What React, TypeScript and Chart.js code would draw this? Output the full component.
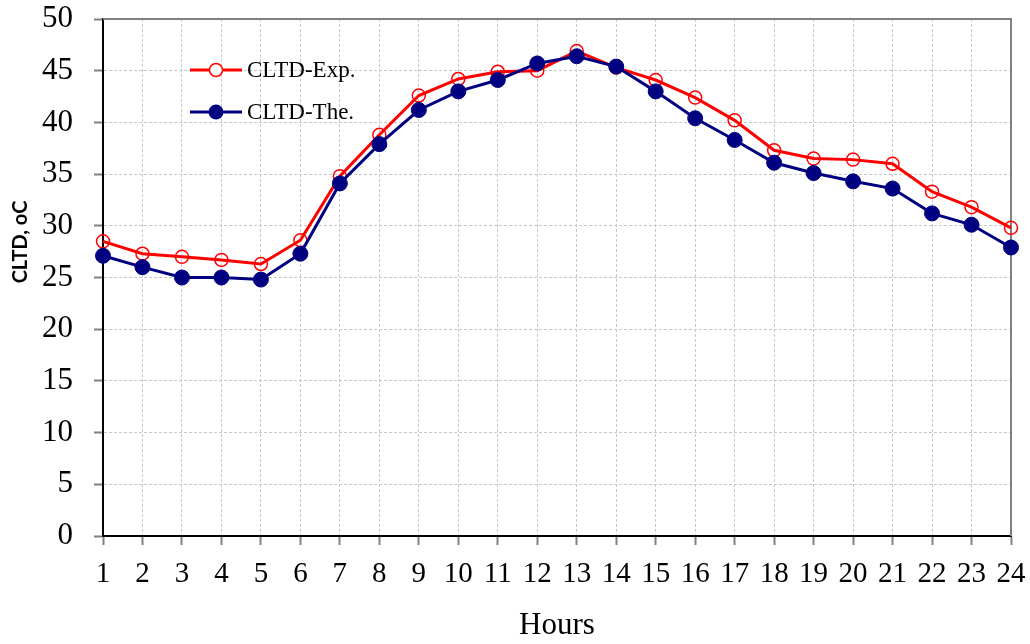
import React, { useEffect, useRef } from "react";
import { Chart, registerables } from "chart.js";

Chart.register(...registerables);

const hours = ["1","2","3","4","5","6","7","8","9","10","11","12","13","14","15","16","17","18","19","20","21","22","23","24"];
const cltdExp = [28.5, 27.3, 27.0, 26.7, 26.3, 28.6, 34.8, 38.8, 42.6, 44.2, 44.9, 45.0, 46.9, 45.3, 44.1, 42.4, 40.2, 37.3, 36.5, 36.4, 36.0, 33.3, 31.8, 29.8];
const cltdThe = [27.1, 26.0, 25.0, 25.0, 24.8, 27.3, 34.1, 37.9, 41.2, 43.0, 44.1, 45.7, 46.4, 45.4, 43.0, 40.4, 38.3, 36.1, 35.1, 34.3, 33.6, 31.2, 30.1, 27.9];
const seriesNames = ["CLTD-Exp.", "CLTD-The."];
const yTitle = "CLTD, oC";
const xTitle = "Hours";

const RED = "#ff0000";
const NAVY = "#000080";

const framePlugin = {
  id: "frame",
  beforeDatasetsDraw(chart: any) {
    const { ctx, chartArea } = chart;
    ctx.save();
    ctx.strokeStyle = "#808080";
    ctx.lineWidth = 2;
    ctx.beginPath();
    ctx.moveTo(chartArea.left, chartArea.top);
    ctx.lineTo(chartArea.right, chartArea.top);
    ctx.lineTo(chartArea.right, chartArea.bottom);
    ctx.stroke();
    ctx.restore();
  },
};

const yTitlePlugin = {
  id: "yTitle",
  afterDraw(chart: any) {
    const { ctx } = chart;
    ctx.save();
    ctx.translate(21, 242);
    ctx.rotate(-Math.PI / 2);
    ctx.fillStyle = "#000000";
    ctx.font = "bold 20px Lato";
    ctx.textAlign = "center";
    ctx.textBaseline = "middle";
    ctx.fillText(yTitle, 0, 0);
    ctx.restore();
  },
};

const legendPlugin = {
  id: "insideLegend",
  afterDraw(chart: any) {
    const { ctx } = chart;
    const items = [
      { label: seriesNames[0], color: RED, filled: false, y: 70 },
      { label: seriesNames[1], color: NAVY, filled: true, y: 112 },
    ];
    ctx.save();
    items.forEach((it) => {
      ctx.strokeStyle = it.color;
      ctx.lineWidth = 3;
      ctx.beginPath();
      ctx.moveTo(190, it.y);
      ctx.lineTo(242, it.y);
      ctx.stroke();
      ctx.beginPath();
      ctx.arc(216, it.y, it.filled ? 7.5 : 6.5, 0, Math.PI * 2);
      if (it.filled) {
        ctx.fillStyle = it.color;
        ctx.fill();
      } else {
        ctx.fillStyle = "#ffffff";
        ctx.fill();
        ctx.lineWidth = 1.5;
        ctx.stroke();
      }
      ctx.fillStyle = "#000000";
      ctx.font = "23px 'Liberation Serif'";
      ctx.textBaseline = "middle";
      ctx.textAlign = "left";
      ctx.fillText(it.label, 247, it.y + 1);
    });
    ctx.restore();
  },
};

export default function App() {
  const ref = useRef<HTMLCanvasElement | null>(null);

  useEffect(() => {
    if (!ref.current) return;
    const chart = new Chart(ref.current, {
      type: "line",
      data: {
        labels: hours,
        datasets: [
          {
            label: seriesNames[0],
            data: cltdExp,
            borderColor: RED,
            borderWidth: 3,
            pointStyle: "circle",
            pointRadius: 6.5,
            pointBorderWidth: 1.5,
            pointBorderColor: RED,
            pointBackgroundColor: "rgba(255,255,255,0)",
            tension: 0,
            clip: false,
            order: 2,
          } as any,
          {
            label: seriesNames[1],
            data: cltdThe,
            borderColor: NAVY,
            borderWidth: 3,
            pointStyle: "circle",
            pointRadius: 7.5,
            pointBorderWidth: 1,
            pointBorderColor: NAVY,
            pointBackgroundColor: NAVY,
            tension: 0,
            clip: false,
            order: 1,
          } as any,
        ],
      },
      options: {
        animation: false,
        responsive: false,
        devicePixelRatio: 1,
        layout: { padding: { left: 0, top: 19, right: 19, bottom: 0 } },
        plugins: {
          legend: { display: false },
          tooltip: { enabled: false },
        },
        scales: {
          x: {
            type: "category",
            offset: false,
            afterFit(scale: any) {
              scale.height = 108;
              scale.paddingLeft = 0;
              scale.paddingRight = 0;
            },
            grid: {
              offset: false,
              color: "#c8c8c8",
              lineWidth: 1,
              tickLength: 9,
              tickColor: "#808080",
              tickWidth: 2,
            },
            border: { color: "#000000", width: 2, dash: [3, 2] },
            ticks: {
              autoSkip: false,
              maxRotation: 0,
              minRotation: 0,
              padding: 12,
              color: "#000000",
              font: { family: "'Liberation Serif'", size: 29 },
            },
            title: {
              display: true,
              text: xTitle,
              color: "#000000",
              font: { family: "'Liberation Serif'", size: 31 },
              padding: { top: 0, bottom: 0 },
            },
          },
          y: {
            min: 0,
            max: 50,
            afterFit(scale: any) {
              scale.width = 103;
              scale.paddingTop = 0;
              scale.paddingBottom = 0;
            },
            grid: {
              color: "#c8c8c8",
              lineWidth: 1,
              tickLength: 9,
              tickColor: "#808080",
              tickWidth: 2,
            },
            border: { color: "#000000", width: 2, dash: [3, 2] },
            ticks: {
              stepSize: 5,
              padding: 21,
              color: "#000000",
              font: { family: "'Liberation Serif'", size: 31 },
            },
          },
        },
      },
      plugins: [framePlugin, legendPlugin, yTitlePlugin],
    } as any);
    return () => chart.destroy();
  }, []);

  return (
    <div style={{ position: "absolute", left: 0, top: 0, width: 1030, height: 644, background: "#ffffff" }}>
      <canvas ref={ref} width={1030} height={644} />
    </div>
  );
}
